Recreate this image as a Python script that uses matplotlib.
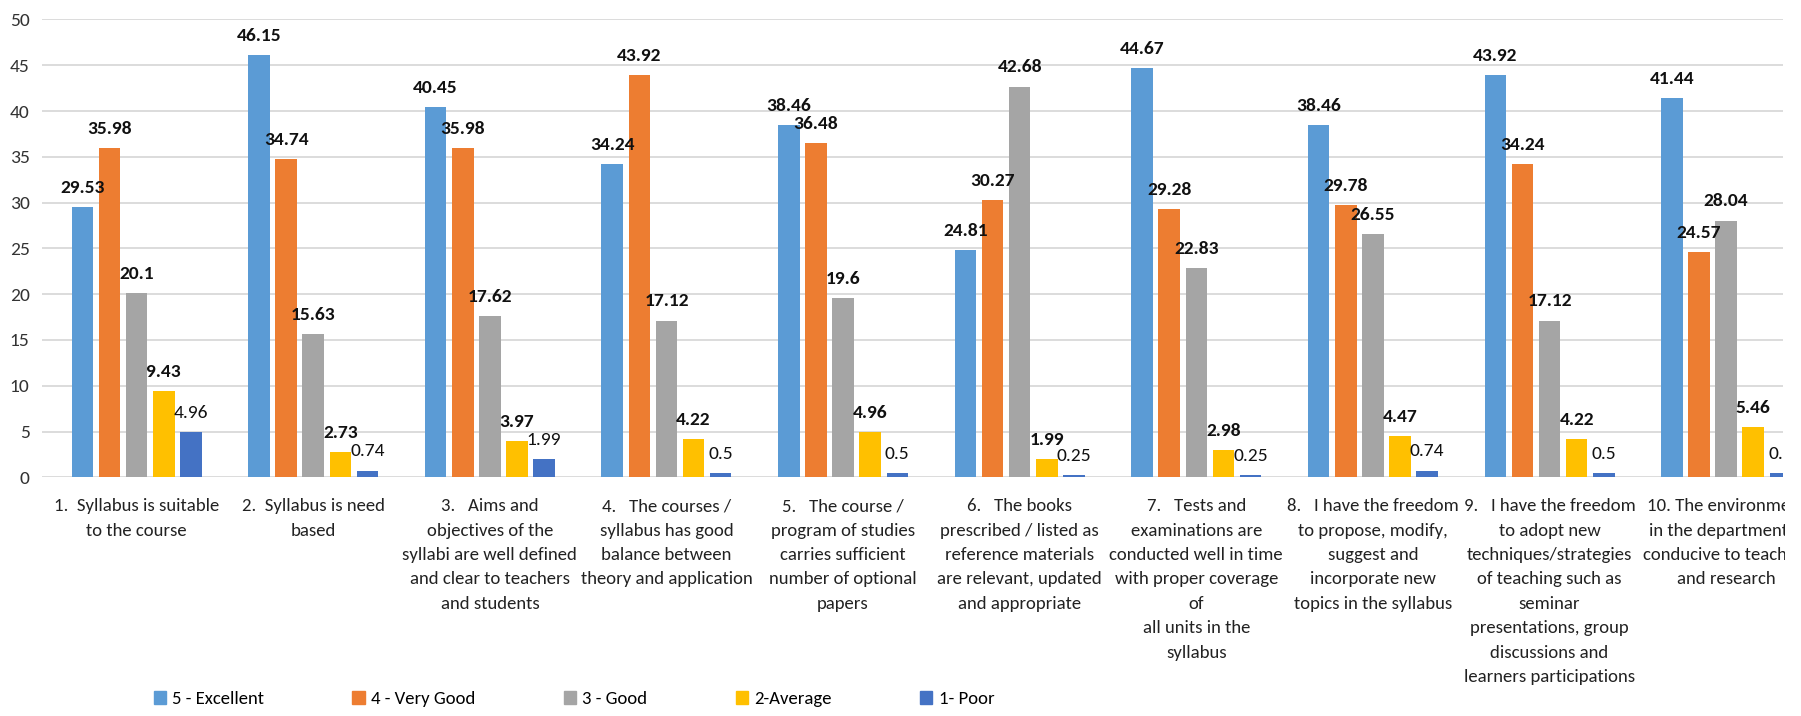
import matplotlib
matplotlib.use("Agg")
import matplotlib.pyplot as plt
import numpy as np
from matplotlib.transforms import Bbox, TransformedBbox
from matplotlib.patches import Patch

categories = [
    "1.  Syllabus is suitable\nto the course",
    "2.  Syllabus is need\nbased",
    "3.   Aims and\nobjectives of the\nsyllabi are well defined\nand clear to teachers\nand students",
    "4.   The courses /\nsyllabus has good\nbalance between\ntheory and application",
    "5.   The course /\nprogram of studies\ncarries sufficient\nnumber of optional\npapers",
    "6.   The books\nprescribed / listed as\nreference materials\nare relevant, updated\nand appropriate",
    "7.   Tests and\nexaminations are\nconducted well in time\nwith proper coverage\nof\nall units in the\nsyllabus",
    "8.   I have the freedom\nto propose, modify,\nsuggest and\nincorporate new\ntopics in the syllabus",
    "9.   I have the freedom\nto adopt new\ntechniques/strategies\nof teaching such as\nseminar\npresentations, group\ndiscussions and\nlearners participations",
    "10. The environment\nin the department is\nconducive to teaching\nand research",
]

series_names = ["5 - Excellent", "4 - Very Good", "3 - Good", "2-Average", "1- Poor"]
excellent = [29.53, 46.15, 40.45, 34.24, 38.46, 24.81, 44.67, 38.46, 43.92, 41.44]
very_good = [35.98, 34.74, 35.98, 43.92, 36.48, 30.27, 29.28, 29.78, 34.24, 24.57]
good      = [20.1, 15.63, 17.62, 17.12, 19.6, 42.68, 22.83, 26.55, 17.12, 28.04]
average   = [9.43, 2.73, 3.97, 4.22, 4.96, 1.99, 2.98, 4.47, 4.22, 5.46]
poor      = [4.96, 0.74, 1.99, 0.5, 0.5, 0.25, 0.25, 0.74, 0.5, 0.5]
series = [excellent, very_good, good, average, poor]
colors = ["#5B9BD5", "#ED7D31", "#A5A5A5", "#FFC000", "#4472C4"]
label_weights = ["bold", "bold", "bold", "bold", "normal"]

FONT = ["Carlito", "Liberation Sans", "DejaVu Sans"]

W, H = 1801, 716
fig = plt.figure(figsize=(W / 100, H / 100), dpi=100)
left_px, right_px, zero_px, top_px = 42, 1783, 477.3, 19.5
ax = fig.add_axes([left_px / W, 1 - zero_px / H, (right_px - left_px) / W, (zero_px - top_px) / H])

x = np.arange(len(categories))
pitch = 0.1535
width = 0.122
for i, (vals, c, name, wt) in enumerate(zip(series, colors, series_names, label_weights)):
    off = (i - 2) * pitch
    bars = ax.bar(x + off, vals, width, color=c, label=name, zorder=2)
    for b, v in zip(bars, vals):
        ax.annotate(f"{v:g}", (b.get_x() + b.get_width() / 2, b.get_height()),
                    xytext=(0, 8), textcoords="offset points", ha="center", va="bottom",
                    fontsize=14, fontweight=wt, family=FONT, color="#111111", zorder=3,
                    annotation_clip=True, clip_on=True)

ax.set_xlim(-0.536, 9.322)
ax.set_ylim(0, 50)
ax.set_yticks(np.arange(0, 51, 5))
ax.yaxis.grid(True, color="#d9d9d9", lw=1.3, zorder=0)
ax.set_axisbelow(True)
for s in ax.spines.values():
    s.set_visible(False)
ax.tick_params(axis="y", length=0, labelsize=14, colors="#333333", pad=9)
for t in ax.get_yticklabels():
    t.set_family(FONT)

ax.set_xticks(x)
ax.set_xticklabels(categories, fontsize=13.5, family=FONT, color="#222222", linespacing=1.65, va="top")
ax.tick_params(axis="x", length=0, pad=15)
clip = TransformedBbox(Bbox([[0, 0], [1785 / W, 1]]), fig.transFigure)
for t in ax.get_xticklabels():
    t.set_clip_box(clip)
    t.set_clip_on(True)

handles = [Patch(color=c) for c in colors]
fig.legend(handles, series_names, loc="center", bbox_to_anchor=(574 / W, 1 - 699 / H), ncol=5,
           frameon=False, prop={"family": FONT, "size": 13.5}, handlelength=0.65, handleheight=0.65,
           handletextpad=0.35, columnspacing=4.7)

fig.savefig("out.png", dpi=100)
